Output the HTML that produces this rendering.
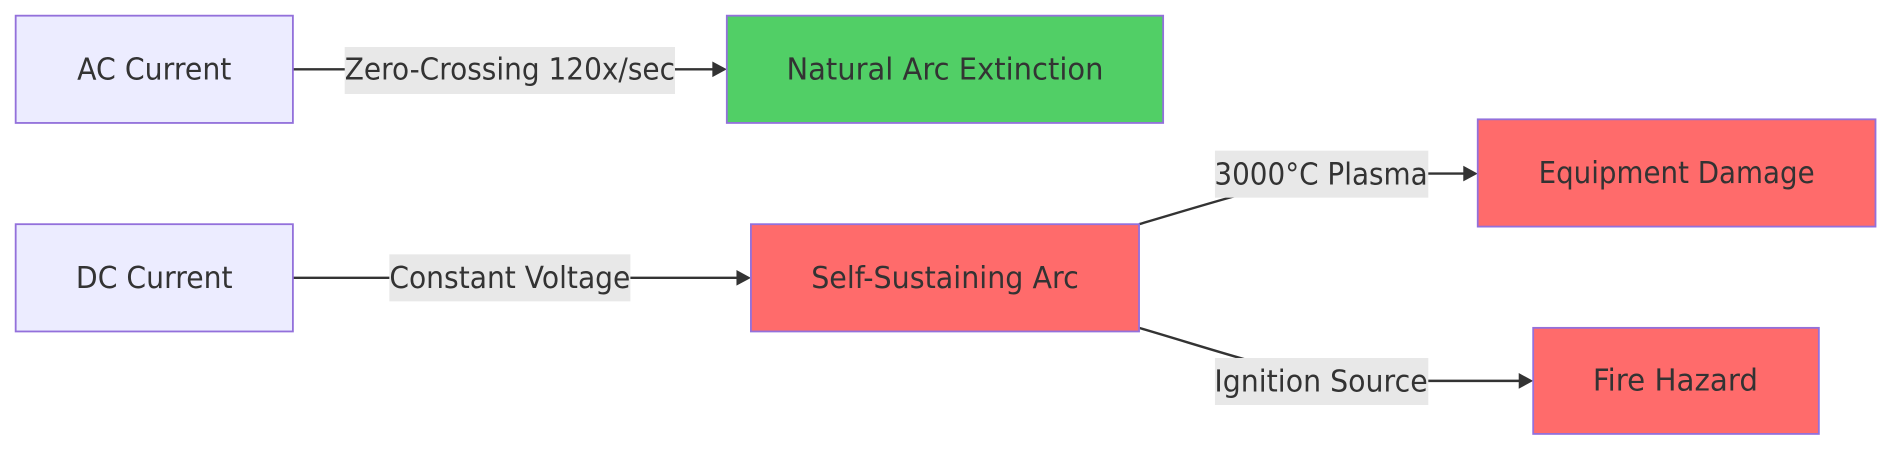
<!DOCTYPE html>
<html><head><meta charset="utf-8"><style>html,body{margin:0;padding:0;background:#fff;}svg{display:block}</style></head>
<body>
<svg width="1889" height="452" viewBox="0 0 1567 375" preserveAspectRatio="xMinYMin meet" xmlns="http://www.w3.org/2000/svg" font-family="'DejaVu Sans', sans-serif" font-size="25">
<g fill="none" stroke="#333" stroke-width="2">
<path d="M243,57.5H593"/>
<path d="M243,230.5H613" />
<path d="M945,186 C1040,158 1080,144 1150,144 L1216,144"/>
<path d="M945,272 C1040,300 1080,316 1150,316 L1262,316"/>
</g>
<g fill="#333">
<path d="M591,51L603,57.5L591,64z"/>
<path d="M611,224L623,230.5L611,237z"/>
<path d="M1214,137.5L1226,144L1214,150.5z"/>
<path d="M1260,309.5L1272,316L1260,322.5z"/>
</g>
<g fill="#e8e8e8">
<rect x="286" y="39" width="274" height="39"/>
<rect x="323" y="211" width="200" height="39"/>
<rect x="1008" y="125" width="177" height="39"/>
<rect x="1008" y="297" width="177" height="39"/>
</g>
<g stroke="#9370db" stroke-width="1.5">
<rect x="13" y="13" width="230" height="89" fill="#ececff"/>
<rect x="603" y="13" width="362" height="89" fill="#51cf66"/>
<rect x="13" y="186" width="230" height="89" fill="#ececff"/>
<rect x="623" y="186" width="322" height="89" fill="#ff6b6b"/>
<rect x="1226" y="99" width="330" height="89" fill="#ff6b6b"/>
<rect x="1272" y="272" width="237" height="88" fill="#ff6b6b"/>
</g>
<g fill="#333" text-anchor="middle" dominant-baseline="central">
<text x="128" y="58" textLength="128" lengthAdjust="spacingAndGlyphs">AC Current</text>
<text x="784" y="58" textLength="263" lengthAdjust="spacingAndGlyphs">Natural Arc Extinction</text>
<text x="128" y="231" textLength="130" lengthAdjust="spacingAndGlyphs">DC Current</text>
<text x="784" y="231" textLength="222" lengthAdjust="spacingAndGlyphs">Self-Sustaining Arc</text>
<text x="1391" y="144" textLength="229" lengthAdjust="spacingAndGlyphs">Equipment Damage</text>
<text x="1390" y="316" textLength="137" lengthAdjust="spacingAndGlyphs">Fire Hazard</text>
<text x="423" y="58" textLength="274" lengthAdjust="spacingAndGlyphs">Zero-Crossing 120x/sec</text>
<text x="423" y="231" textLength="200" lengthAdjust="spacingAndGlyphs">Constant Voltage</text>
<text x="1096" y="145" textLength="177" lengthAdjust="spacingAndGlyphs">3000°C Plasma</text>
<text x="1096" y="317" textLength="177" lengthAdjust="spacingAndGlyphs">Ignition Source</text>
</g>
</svg>
</body></html>
